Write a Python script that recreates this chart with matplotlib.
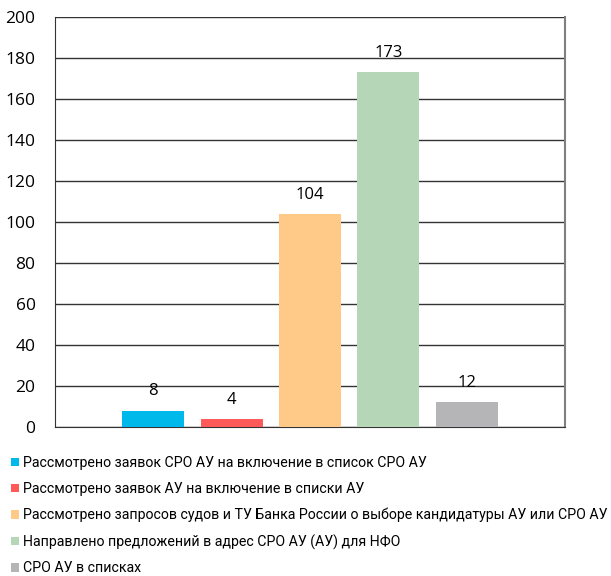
import matplotlib
matplotlib.use("Agg")
import matplotlib.pyplot as plt
from matplotlib.patches import Patch

categories = [
    "Рассмотрено заявок СРО АУ на включение в список СРО АУ",
    "Рассмотрено заявок АУ на включение в списки АУ",
    "Рассмотрено запросов судов и ТУ Банка России о выборе кандидатуры АУ или СРО АУ",
    "Направлено предложений в адрес СРО АУ (АУ) для НФО",
    "СРО АУ в списках",
]
values = [8, 4, 104, 173, 12]
colors = ["#00B9EB", "#FF5A5A", "#FFCA88", "#B6D6B8", "#B5B5B7"]
yticks = list(range(0, 201, 20))

fig = plt.figure(figsize=(6.11, 5.76), dpi=100)
ax = fig.add_axes([55 / 611, 1 - 427 / 576, 510 / 611, 410 / 576])

xs = list(range(len(values)))
bars = ax.bar(xs, values, width=0.79, color=colors, zorder=3)
for x, v in zip(xs, values):
    ax.annotate(str(v), (x, v), xytext=(0, 8), textcoords="offset points",
                ha="center", va="bottom", fontsize=12, family="Open Sans")

ax.set_xlim(-1.25, 4 + 1.25)
ax.set_ylim(0, 200)
ax.set_yticks(yticks)
ax.set_xticks([])
ax.tick_params(axis="y", length=0, pad=14, labelsize=12.5)
for lab in ax.get_yticklabels():
    lab.set_family("Open Sans")
ax.grid(axis="y", color="#333333", linewidth=1, zorder=0)
ax.set_axisbelow(True)
ax.spines["top"].set_visible(False)
ax.spines["left"].set_color("#333333")
ax.spines["bottom"].set_color("#333333")
ax.spines["right"].set_color("#7f7f7f")
ax.spines["right"].set_linewidth(1.5)

handles = [Patch(facecolor=c, edgecolor="none") for c in colors]
fig.legend(handles, categories, loc="upper left", bbox_to_anchor=(0.018, 1 - 456 / 576),
           frameon=False, handlelength=0.55, handleheight=0.55, handletextpad=0.3,
           labelspacing=0.84, borderaxespad=0, borderpad=0,
           prop={"family": "Roboto", "size": 10.2})

fig.savefig("out.png", dpi=100)
